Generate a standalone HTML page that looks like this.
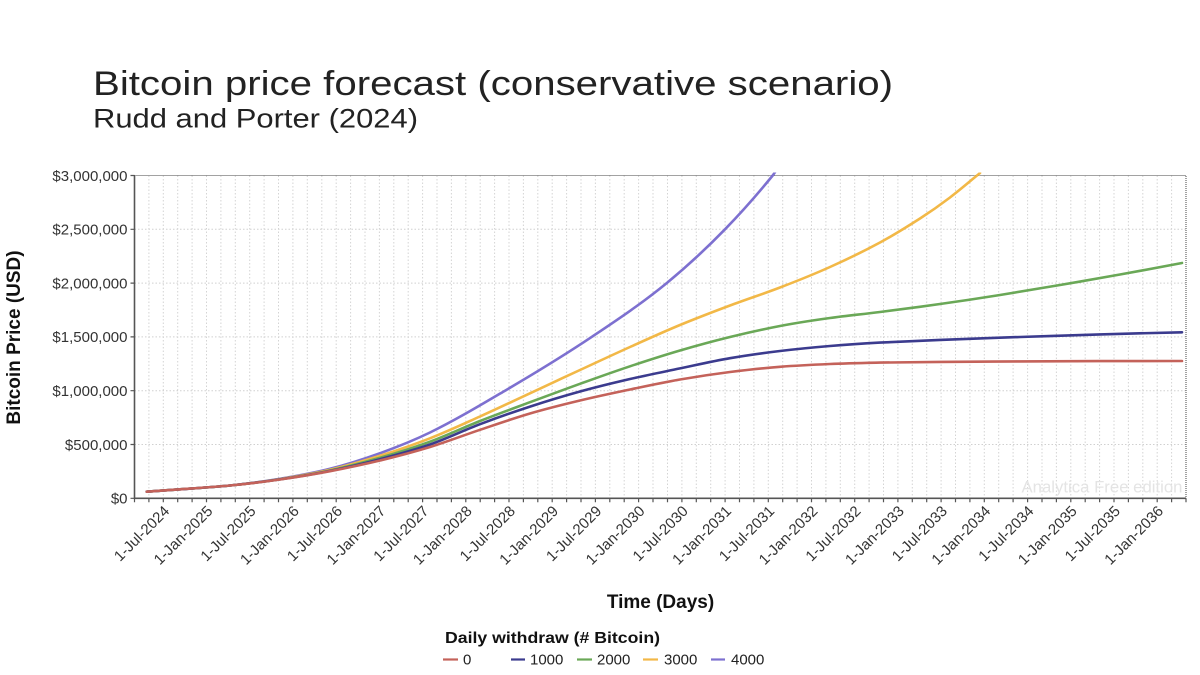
<!DOCTYPE html>
<html>
<head>
<meta charset="utf-8">
<style>
html,body{margin:0;padding:0;background:#fff;}
svg{display:block;font-family:"Liberation Sans",Arial,sans-serif;}
</style>
</head>
<body>
<svg width="1200" height="675" viewBox="0 0 1200 675" xmlns="http://www.w3.org/2000/svg">
<rect width="1200" height="675" fill="#fff"/>

<!-- Titles -->
<text x="93" y="95" font-size="34" fill="#222" textLength="800" lengthAdjust="spacingAndGlyphs">Bitcoin price forecast (conservative scenario)</text>
<text x="93" y="127.3" font-size="27" fill="#222" textLength="325" lengthAdjust="spacingAndGlyphs">Rudd and Porter (2024)</text>

<!-- Vertical gridlines -->
<path fill="none" stroke="#d4d4d4" stroke-width="1" stroke-dasharray="1.5,2"
d="M148.9 175.5V498.3M163.3 175.5V498.3M177.7 175.5V498.3M192.1 175.5V498.3M206.5 175.5V498.3M220.9 175.5V498.3M235.3 175.5V498.3M249.7 175.5V498.3M264.1 175.5V498.3M278.5 175.5V498.3M292.9 175.5V498.3M307.3 175.5V498.3M321.8 175.5V498.3M336.2 175.5V498.3M350.6 175.5V498.3M365.0 175.5V498.3M379.4 175.5V498.3M393.8 175.5V498.3M408.2 175.5V498.3M422.6 175.5V498.3M437.0 175.5V498.3M451.4 175.5V498.3M465.8 175.5V498.3M480.2 175.5V498.3M494.6 175.5V498.3M509.0 175.5V498.3M523.4 175.5V498.3M537.8 175.5V498.3M552.2 175.5V498.3M566.6 175.5V498.3M581.0 175.5V498.3M595.4 175.5V498.3M609.8 175.5V498.3M624.2 175.5V498.3M638.6 175.5V498.3M653.0 175.5V498.3M667.5 175.5V498.3M681.9 175.5V498.3M696.3 175.5V498.3M710.7 175.5V498.3M725.1 175.5V498.3M739.5 175.5V498.3M753.9 175.5V498.3M768.3 175.5V498.3M782.7 175.5V498.3M797.1 175.5V498.3M811.5 175.5V498.3M825.9 175.5V498.3M840.3 175.5V498.3M854.7 175.5V498.3M869.1 175.5V498.3M883.5 175.5V498.3M897.9 175.5V498.3M912.3 175.5V498.3M926.7 175.5V498.3M941.1 175.5V498.3M955.5 175.5V498.3M969.9 175.5V498.3M984.3 175.5V498.3M998.7 175.5V498.3M1013.1 175.5V498.3M1027.6 175.5V498.3M1042.0 175.5V498.3M1056.4 175.5V498.3M1070.8 175.5V498.3M1085.2 175.5V498.3M1099.6 175.5V498.3M1114.0 175.5V498.3M1128.4 175.5V498.3M1142.8 175.5V498.3M1157.2 175.5V498.3M1171.6 175.5V498.3"/>

<!-- Horizontal gridlines -->
<path fill="none" stroke="#d0d0d0" stroke-width="1" stroke-dasharray="1.5,2"
d="M134.5 229.3H1186M134.5 283.1H1186M134.5 336.9H1186M134.5 390.7H1186M134.5 444.5H1186"/>

<!-- Watermark -->
<text x="1021.5" y="492.5" font-size="16.5" fill="#e4e4e4" textLength="161" lengthAdjust="spacingAndGlyphs">Analytica Free edition</text>

<!-- Borders -->
<path fill="none" stroke="#444" stroke-width="1" stroke-dasharray="1,1" d="M134.5 175.5H1186V498.3"/>
<path fill="none" stroke="#555" stroke-width="1.6" d="M134.5 175.5V498.3H1186"/>

<!-- Y ticks -->
<path fill="none" stroke="#555" stroke-width="1.2" d="M130.5 175.5H134.5M130.5 229.3H134.5M130.5 283.1H134.5M130.5 336.9H134.5M130.5 390.7H134.5M130.5 444.5H134.5M130.5 498.3H134.5"/>

<!-- X ticks -->
<path fill="none" stroke="#555" stroke-width="1.2"
d="M134.5 498.3v4M148.9 498.3v4M163.3 498.3v4M177.7 498.3v4M192.1 498.3v4M206.5 498.3v4M220.9 498.3v4M235.3 498.3v4M249.7 498.3v4M264.1 498.3v4M278.5 498.3v4M292.9 498.3v4M307.3 498.3v4M321.8 498.3v4M336.2 498.3v4M350.6 498.3v4M365.0 498.3v4M379.4 498.3v4M393.8 498.3v4M408.2 498.3v4M422.6 498.3v4M437.0 498.3v4M451.4 498.3v4M465.8 498.3v4M480.2 498.3v4M494.6 498.3v4M509.0 498.3v4M523.4 498.3v4M537.8 498.3v4M552.2 498.3v4M566.6 498.3v4M581.0 498.3v4M595.4 498.3v4M609.8 498.3v4M624.2 498.3v4M638.6 498.3v4M653.0 498.3v4M667.5 498.3v4M681.9 498.3v4M696.3 498.3v4M710.7 498.3v4M725.1 498.3v4M739.5 498.3v4M753.9 498.3v4M768.3 498.3v4M782.7 498.3v4M797.1 498.3v4M811.5 498.3v4M825.9 498.3v4M840.3 498.3v4M854.7 498.3v4M869.1 498.3v4M883.5 498.3v4M897.9 498.3v4M912.3 498.3v4M926.7 498.3v4M941.1 498.3v4M955.5 498.3v4M969.9 498.3v4M984.3 498.3v4M998.7 498.3v4M1013.1 498.3v4M1027.6 498.3v4M1042.0 498.3v4M1056.4 498.3v4M1070.8 498.3v4M1085.2 498.3v4M1099.6 498.3v4M1114.0 498.3v4M1128.4 498.3v4M1142.8 498.3v4M1157.2 498.3v4M1171.6 498.3v4M1186 498.3v4"/>

<!-- Y tick labels -->
<g font-size="15" fill="#333" text-anchor="end">
<text x="127.5" y="180.8">$3,000,000</text>
<text x="127.5" y="234.6">$2,500,000</text>
<text x="127.5" y="288.4">$2,000,000</text>
<text x="127.5" y="342.2">$1,500,000</text>
<text x="127.5" y="396.0">$1,000,000</text>
<text x="127.5" y="449.8">$500,000</text>
<text x="127.5" y="503.6">$0</text>
</g>

<!-- X tick labels -->
<g font-size="15" fill="#333" text-anchor="end">
<text x="170.3" y="512" transform="rotate(-45 170.3 512)">1-Jul-2024</text>
<text x="213.5" y="512" transform="rotate(-45 213.5 512)">1-Jan-2025</text>
<text x="256.7" y="512" transform="rotate(-45 256.7 512)">1-Jul-2025</text>
<text x="299.9" y="512" transform="rotate(-45 299.9 512)">1-Jan-2026</text>
<text x="343.2" y="512" transform="rotate(-45 343.2 512)">1-Jul-2026</text>
<text x="386.4" y="512" transform="rotate(-45 386.4 512)">1-Jan-2027</text>
<text x="429.6" y="512" transform="rotate(-45 429.6 512)">1-Jul-2027</text>
<text x="472.8" y="512" transform="rotate(-45 472.8 512)">1-Jan-2028</text>
<text x="516.0" y="512" transform="rotate(-45 516.0 512)">1-Jul-2028</text>
<text x="559.2" y="512" transform="rotate(-45 559.2 512)">1-Jan-2029</text>
<text x="602.4" y="512" transform="rotate(-45 602.4 512)">1-Jul-2029</text>
<text x="645.6" y="512" transform="rotate(-45 645.6 512)">1-Jan-2030</text>
<text x="688.9" y="512" transform="rotate(-45 688.9 512)">1-Jul-2030</text>
<text x="732.1" y="512" transform="rotate(-45 732.1 512)">1-Jan-2031</text>
<text x="775.3" y="512" transform="rotate(-45 775.3 512)">1-Jul-2031</text>
<text x="818.5" y="512" transform="rotate(-45 818.5 512)">1-Jan-2032</text>
<text x="861.7" y="512" transform="rotate(-45 861.7 512)">1-Jul-2032</text>
<text x="904.9" y="512" transform="rotate(-45 904.9 512)">1-Jan-2033</text>
<text x="948.1" y="512" transform="rotate(-45 948.1 512)">1-Jul-2033</text>
<text x="991.3" y="512" transform="rotate(-45 991.3 512)">1-Jan-2034</text>
<text x="1034.6" y="512" transform="rotate(-45 1034.6 512)">1-Jul-2034</text>
<text x="1077.8" y="512" transform="rotate(-45 1077.8 512)">1-Jan-2035</text>
<text x="1121.0" y="512" transform="rotate(-45 1121.0 512)">1-Jul-2035</text>
<text x="1164.2" y="512" transform="rotate(-45 1164.2 512)">1-Jan-2036</text>
</g>

<!-- Axis titles -->
<text x="660.5" y="608" font-size="19" font-weight="bold" fill="#111" text-anchor="middle">Time (Days)</text>
<text x="20" y="337.5" font-size="19" font-weight="bold" fill="#111" text-anchor="middle" transform="rotate(-90 20 337.5)">Bitcoin Price (USD)</text>

<!-- Series -->
<defs>
<clipPath id="plot"><rect x="134.5" y="172.5" width="1051.5" height="326"/></clipPath>
</defs>
<g clip-path="url(#plot)" fill="none" stroke-width="2.6" stroke-linejoin="round" stroke-linecap="round">
<path stroke="#7d70d0" d="M146.7 491.7 C157.8 490.9 168.9 490.1 180 489.3 C196.7 488.07 213.3 487.25 230 485.5 C246.7 483.75 263.3 481.58 280 478.8 C296.7 476.02 313.3 473.07 330 468.8 C346.7 464.53 363.3 459.25 380 453.2 C396.7 447.15 413.3 440.6 430 432.5 C455 420.35 480 405.43 505 390.7 C533.9 373.68 562.8 356.23 591.7 336.9 C616.7 320.17 641.7 303.6 666.7 283.1 C686.1 267.17 705.6 249.24 725 229.3 C740.9 212.99 756.8 195.06 772.7 175.5 L775.5 171.5"/>
<path stroke="#f2b847" d="M146.7 491.7 C152.3 491.3 166.1 490.3 180 489.3 S213.3 487.2 230 485.5 S263.3 481.7 280 479.1 S313.3 473.7 330 469.8 S363.3 461.05 380 455.8 S413.3 444.85 430 438.3 S463.3 424 480 416.5 S513.3 401.05 530 393.3 S563.3 377.7 580 370 S613.3 354.5 630 347 S663.3 331.9 680 325 S713.3 311.75 730 305.5 S763.3 293.9 780 287.5 S813.3 274.5 830 267 S865 250.6 880 242.5 S908.3 226 920 218.5 S940 205.1 950 197.5 S975 177.1 980 173"/>
<path stroke="#6aa857" d="M146.7 491.7 C152.3 491.3 166.1 490.3 180 489.3 S213.3 487.2 230 485.5 S263.3 481.8 280 479.3 S313.3 474.1 330 470.5 S363.3 462.6 380 457.8 S413.3 447.8 430 441.7 S463.3 427.6 480 421 S513.3 408.4 530 402.2 S563.3 389.8 580 383.8 S613.3 371.85 630 366.3 S663.3 355.4 680 350.5 S713.3 341.1 730 337 S763.3 329.2 780 326 S813.3 320.3 830 318 S861.7 314.3 880 312 S920 306.8 940 304 S980 298.2 1000 295 S1040 288.4 1060 285 S1099.3 278.2 1120 274.5 S1171.7 264.9 1182 263"/>
<path stroke="#3b3b8e" d="M146.7 491.7 C152.3 491.3 166.1 490.3 180 489.3 S213.3 487.15 230 485.5 S263.3 481.8 280 479.4 S313.3 474.3 330 470.9 S363.3 463.6 380 459.2 S413.3 450.3 430 444.5 S463.3 430.5 480 424.2 S513.3 412.05 530 406.6 S563.3 396.1 580 391.5 S613.3 382.85 630 379 S663.3 371.9 680 368.4 S713.3 361.1 730 358.2 S763.3 353 780 351 S813.3 347.4 830 346 S861.7 343.6 880 342.6 S916.7 340.8 940 339.9 S993.3 337.9 1020 337 S1073 335.2 1100 334.4 S1168.3 332.65 1182 332.3"/>
<path stroke="#c4625a" d="M146.7 491.7 C152.3 491.3 166.1 490.3 180 489.3 S213.3 487.1 230 485.5 S263.3 481.9 280 479.5 S313.3 474.4 330 471.2 S363.3 464.5 380 460.5 S413.3 452.1 430 447 S463.3 435.4 480 429.8 S513.3 418.4 530 413.5 S563.3 404.5 580 400.5 S613.3 393 630 389.5 S663.3 382.4 680 379.5 S713.3 374.1 730 372 S763.3 368.1 780 366.8 S813.3 364.7 830 364 S861.7 363 880 362.6 S916.7 362.1 940 361.9 S993.3 361.5 1020 361.4 S1073 361.2 1100 361.1 S1168.3 361 1182 361"/>
</g>

<!-- Legend -->
<text x="445" y="643" font-size="16" font-weight="bold" fill="#111" textLength="215" lengthAdjust="spacingAndGlyphs">Daily withdraw (# Bitcoin)</text>
<g stroke-width="2.2">
<line x1="443" y1="659.5" x2="458" y2="659.5" stroke="#c4625a"/>
<line x1="511" y1="659.5" x2="525" y2="659.5" stroke="#3b3b8e"/>
<line x1="577" y1="659.5" x2="592" y2="659.5" stroke="#6aa857"/>
<line x1="643" y1="659.5" x2="658" y2="659.5" stroke="#f2b847"/>
<line x1="711" y1="659.5" x2="725" y2="659.5" stroke="#7d70d0"/>
</g>
<g font-size="15" fill="#222">
<text x="463" y="664.5">0</text>
<text x="530" y="664.5">1000</text>
<text x="597" y="664.5">2000</text>
<text x="664" y="664.5">3000</text>
<text x="731" y="664.5">4000</text>
</g>
</svg>
</body>
</html>
